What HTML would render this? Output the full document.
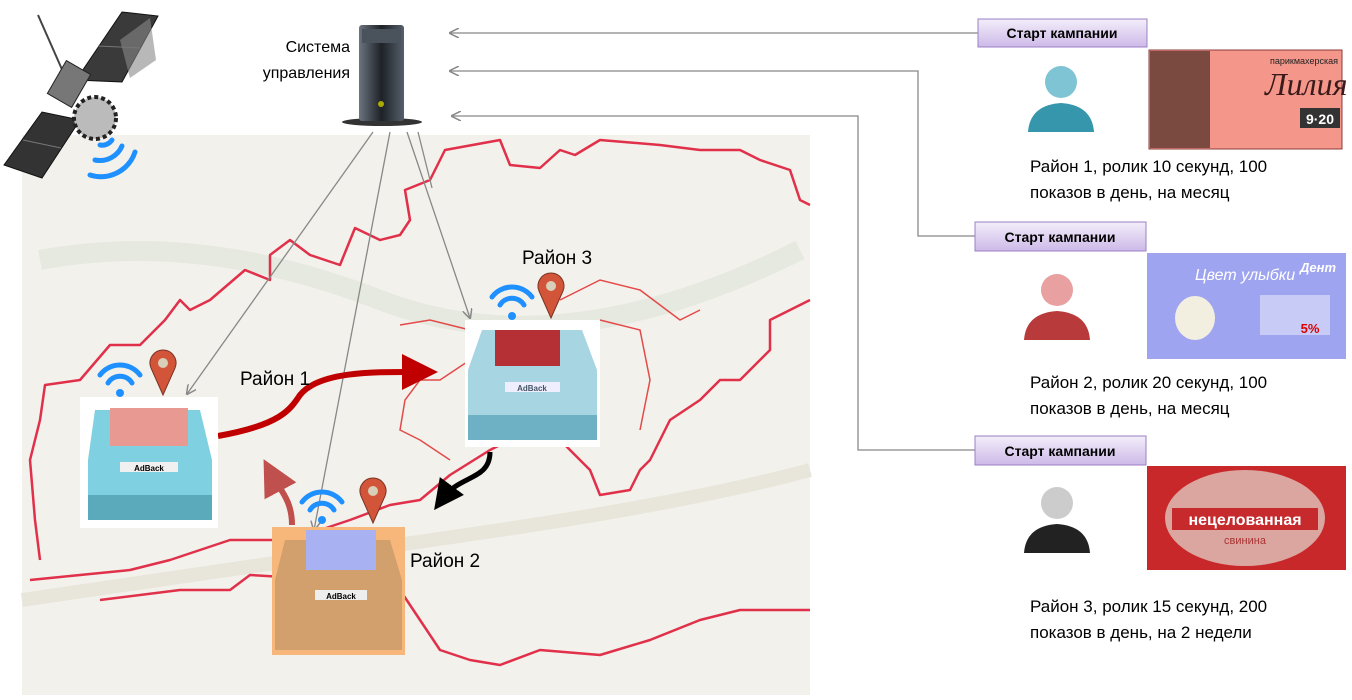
<!DOCTYPE html>
<html><head><meta charset="utf-8"><style>
body{margin:0;background:#fff;width:1352px;height:695px;overflow:hidden;font-family:"Liberation Sans","Noto Sans CJK SC",sans-serif}
</style></head><body>
<svg width="1352" height="695" viewBox="0 0 1352 695" xmlns="http://www.w3.org/2000/svg" font-family="Liberation Sans, sans-serif">
<defs>
<linearGradient id="btn" x1="0" y1="0" x2="0" y2="1"><stop offset="0" stop-color="#f3eefa"/><stop offset="1" stop-color="#cdb9e8"/></linearGradient>
<linearGradient id="pc" x1="0" y1="0" x2="1" y2="0"><stop offset="0" stop-color="#6b7480"/><stop offset="0.5" stop-color="#1e2227"/><stop offset="1" stop-color="#55606a"/></linearGradient>
<marker id="ga" markerWidth="10" markerHeight="10" refX="9" refY="5" orient="auto" markerUnits="userSpaceOnUse"><path d="M0,0 L10,5 L0,10" fill="none" stroke="#888" stroke-width="1.5"/></marker>
<marker id="ra" markerWidth="6" markerHeight="6" refX="3" refY="3" orient="auto"><path d="M0,0 L6,3 L0,6z" fill="#c00000"/></marker>
<marker id="ba" markerWidth="6" markerHeight="6" refX="3" refY="3" orient="auto"><path d="M0,0 L6,3 L0,6z" fill="#000"/></marker>
<marker id="pa" markerWidth="6" markerHeight="6" refX="3" refY="3" orient="auto"><path d="M0,0 L6,3 L0,6z" fill="#c0504d"/></marker>
</defs>
<!-- map -->
<rect x="22" y="135" width="788" height="560" fill="#f3f1ec"/>
<path d="M40,260 Q200,230 380,300 T800,250" fill="none" stroke="#e6e9df" stroke-width="20"/>
<path d="M22,600 Q300,560 500,530 T810,470" fill="none" stroke="#e8e5db" stroke-width="14"/>
<path d="M40,420 L45,385 L80,380 L110,345 L140,345 L165,320 L180,300 L190,310 L210,300 L245,270 L270,280 L270,255 L290,240 L310,255 L340,265 L355,228 L380,240 L400,235 L410,220 L405,190 L430,180 L445,150 L500,140 L510,165 L540,168 L560,150 L575,155 L600,140 L660,145 L700,150 L740,150 L760,160 L790,170 L800,200 L810,205 M810,300 L790,310 L770,320 L770,350 L740,380 L720,380 L700,400 L670,420 L650,460 L640,470 L630,490 L600,495 L590,470 L560,440 L540,430 L510,440 L490,450 L450,475 L420,500 L390,505 L350,520 L290,540 L230,540 L170,560 L130,570 L80,575 L30,580 M40,420 L30,460 L35,520 L40,560 M100,600 L180,590 L230,590 L250,575 L300,578 L330,590 L360,580 L400,590 L420,620 L440,650 L470,660 L500,665 L540,650 L600,655 L650,640 L700,620 L740,610 L810,610" fill="none" stroke="#e0304a" stroke-width="2.5" stroke-linejoin="round"/>
<path d="M400,325 L430,320 L470,330 L470,360 L440,380 L420,380 L405,400 L400,430 L420,440 L450,460 M560,300 L600,280 L640,290 L680,320 L700,310 M600,320 L640,330 L650,380 L640,430" fill="none" stroke="#e34a48" stroke-width="1.5"/>
<!-- satellite -->
<line x1="38" y1="15" x2="64" y2="74" stroke="#444" stroke-width="2"/>
<polygon points="76,80 122,12 158,16 122,82" fill="#3a3a3a" stroke="#111"/>
<polygon points="120,40 150,18 156,60 130,78" fill="#888" opacity=".6"/>
<polygon points="4,165 42,112 80,120 42,178" fill="#333" stroke="#111"/>
<line x1="23" y1="140" x2="61" y2="148" stroke="#777"/>
<line x1="98" y1="46" x2="140" y2="48" stroke="#777"/>
<rect x="55" y="65" width="28" height="38" fill="#777" stroke="#222" transform="rotate(30 69 84)"/>
<circle cx="95" cy="118" r="21" fill="#bbb" stroke="#222" stroke-width="4" stroke-dasharray="4 3"/>
<g fill="none" stroke="#1e90ff" stroke-width="5" stroke-linecap="round">
<path d="M100,145 A12,12 0 0 0 112,140"/><path d="M95,160 A24,24 0 0 0 122,146"/><path d="M90,175 A36,36 0 0 0 135,152"/>
</g>
<!-- server -->
<text x="350" y="52" font-size="16" text-anchor="end" fill="#000">Система</text>
<text x="350" y="78" font-size="16" text-anchor="end" fill="#000">управления</text>
<ellipse cx="382" cy="122" rx="40" ry="4" fill="#333"/>
<rect x="359" y="25" width="45" height="96" rx="3" fill="url(#pc)"/>
<rect x="362" y="29" width="39" height="14" fill="#4a535c"/>
<circle cx="381" cy="104" r="3" fill="#aa0"/>
<!-- connectors -->
<g stroke="#888" stroke-width="1.3" fill="none">
<line x1="978" y1="33" x2="450" y2="33" marker-end="url(#ga)"/>
<polyline points="975,236 918,236 918,71 450,71" marker-end="url(#ga)"/>
<polyline points="975,450 858,450 858,116 452,116" marker-end="url(#ga)"/>
<line x1="373" y1="132" x2="187" y2="394" marker-end="url(#ga)"/>
<line x1="390" y1="132" x2="314" y2="530" marker-end="url(#ga)"/>
<line x1="407" y1="132" x2="470" y2="318" marker-end="url(#ga)"/>
<line x1="418" y1="132" x2="432" y2="188"/>
</g>
<path d="M218,436 C280,425 290,410 300,395 C320,370 380,372 420,372" fill="none" stroke="#c00000" stroke-width="6" marker-end="url(#ra)"/>
<path d="M292,525 C292,500 280,490 272,475" fill="none" stroke="#c0504d" stroke-width="6" marker-end="url(#pa)"/>
<path d="M490,452 C490,480 460,475 443,498" fill="none" stroke="#000" stroke-width="5" marker-end="url(#ba)"/>
<text x="240" y="385" font-size="19">Район 1</text>
<text x="522" y="264" font-size="19">Район 3</text>
<text x="410" y="567" font-size="19">Район 2</text>
<!-- cars -->
<g>
<rect x="80" y="397" width="138" height="131" fill="#fff"/>
<path d="M95,410 L200,410 L212,460 L212,520 L88,520 L88,460Z" fill="#7fd0e0"/>
<rect x="110" y="408" width="78" height="38" fill="#e89a92"/>
<rect x="120" y="462" width="58" height="10" fill="#f0f0f0"/><text x="149" y="471" font-size="8" text-anchor="middle" font-weight="bold">AdBack</text>
<rect x="88" y="495" width="124" height="25" fill="#5aaabb"/>
</g>
<g>
<rect x="465" y="320" width="135" height="127" fill="#fff"/>
<path d="M482,330 L582,330 L597,370 L597,440 L468,440 L468,370Z" fill="#a8d5e2"/>
<rect x="495" y="330" width="65" height="36" fill="#b53035"/>
<rect x="505" y="382" width="55" height="10" fill="#eef"/><text x="532" y="391" font-size="8" text-anchor="middle" font-weight="bold" fill="#456">AdBack</text>
<rect x="468" y="415" width="129" height="25" fill="#6eb0c4"/>
</g>
<g>
<rect x="272" y="527" width="133" height="128" fill="#f8b77a"/>
<path d="M285,540 L390,540 L402,580 L402,650 L275,650 L275,580Z" fill="#d2a06c"/>
<rect x="306" y="530" width="70" height="40" fill="#a8b2f2"/>
<rect x="315" y="590" width="52" height="10" fill="#eee"/><text x="341" y="599" font-size="8" text-anchor="middle" font-weight="bold">AdBack</text>
</g>
<g fill="none" stroke="#1e90ff" stroke-width="5" stroke-linecap="round">
<path d="M108,383 A14,14 0 0 1 132,383"/><path d="M100,375 A25,25 0 0 1 140,375"/>
<path d="M500,305 A14,14 0 0 1 524,305"/><path d="M492,297 A25,25 0 0 1 532,297"/>
<path d="M310,510 A14,14 0 0 1 334,510"/><path d="M302,502 A25,25 0 0 1 342,502"/>
</g>
<g fill="#1e90ff"><circle cx="120" cy="393" r="4"/><circle cx="512" cy="316" r="4"/><circle cx="322" cy="520" r="4"/></g>
<g fill="#d2553a" stroke="#7a3322" stroke-width="1">
<path d="M163,395 L151,368 A13,13 0 1 1 175,368Z"/><path d="M551,318 L539,291 A13,13 0 1 1 563,291Z"/><path d="M373,523 L361,496 A13,13 0 1 1 385,496Z"/>
</g>
<g fill="#d8cfb8"><circle cx="163" cy="363" r="5"/><circle cx="551" cy="286" r="5"/><circle cx="373" cy="491" r="5"/></g>
<!-- right panel -->
<g font-size="14" font-weight="bold" text-anchor="middle">
<rect x="978" y="19" width="169" height="28" fill="url(#btn)" stroke="#9b80c4"/><text x="1062" y="38">Старт кампании</text>
<rect x="975" y="222" width="171" height="29" fill="url(#btn)" stroke="#9b80c4"/><text x="1060" y="242">Старт кампании</text>
<rect x="975" y="436" width="171" height="29" fill="url(#btn)" stroke="#9b80c4"/><text x="1060" y="456">Старт кампании</text>
</g>
<g>
<circle cx="1061" cy="82" r="16" fill="#7fc4d4"/><path d="M1028,132 Q1030,105 1061,103 Q1092,105 1094,132Z" fill="#3596ac"/>
<circle cx="1057" cy="290" r="16" fill="#e8a0a0"/><path d="M1024,340 Q1026,313 1057,311 Q1088,313 1090,340Z" fill="#b83a3a"/>
<circle cx="1057" cy="503" r="16" fill="#ccc"/><path d="M1024,553 Q1026,526 1057,524 Q1088,526 1090,553Z" fill="#222"/>
</g>
<rect x="1149" y="50" width="193" height="99" fill="#f4978a" stroke="#8b3b3b"/>
<rect x="1150" y="51" width="60" height="97" fill="#7a4a40"/>
<text x="1265" y="95" font-size="32" font-family="Liberation Serif" font-style="italic" fill="#3a1a1a">Лилия</text>
<text x="1270" y="64" font-size="9" fill="#222">парикмахерская</text>
<rect x="1300" y="108" width="40" height="20" fill="#333"/><text x="1320" y="124" font-size="14" fill="#fff" text-anchor="middle" font-weight="bold">9·20</text>
<rect x="1147" y="253" width="199" height="106" fill="#9ea4f0"/>
<text x="1195" y="280" font-size="16" font-style="italic" fill="#fff">Цвет улыбки</text>
<ellipse cx="1195" cy="318" rx="20" ry="22" fill="#f3efe0"/>
<rect x="1260" y="295" width="70" height="40" fill="#c7cbf6"/><text x="1310" y="333" font-size="13" fill="#d00" font-weight="bold" text-anchor="middle">5%</text>
<text x="1300" y="272" font-size="13" fill="#fff" font-weight="bold" font-style="italic">Дент</text>
<rect x="1147" y="466" width="199" height="104" fill="#c8282a"/>
<ellipse cx="1245" cy="518" rx="80" ry="48" fill="#dba6a0"/>
<rect x="1172" y="508" width="146" height="22" fill="#c62a2c"/>
<text x="1245" y="525" font-size="16" fill="#fff" text-anchor="middle" font-weight="bold">нецелованная</text>
<text x="1245" y="544" font-size="11" fill="#a33" text-anchor="middle">свинина</text>
<g font-size="17" fill="#000">
<text x="1030" y="172">Район 1, ролик 10 секунд, 100</text>
<text x="1030" y="198">показов в день, на месяц</text>
<text x="1030" y="388">Район 2, ролик 20 секунд, 100</text>
<text x="1030" y="414">показов в день, на месяц</text>
<text x="1030" y="612">Район 3, ролик 15 секунд, 200</text>
<text x="1030" y="638">показов в день, на 2 недели</text>
</g>
</svg>
</body></html>
